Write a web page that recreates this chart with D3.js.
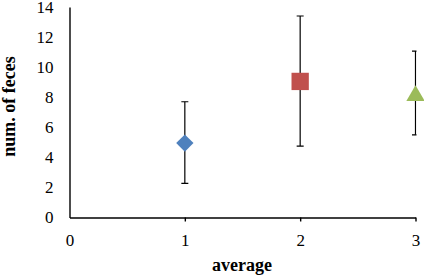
<!DOCTYPE html>
<html>
<head>
<meta charset="utf-8">
<script src="https://cdn.jsdelivr.net/npm/d3@7"></script>
<style>
  body { margin: 0; background: #fff; }
  text { font-family: "Liberation Serif", "Times New Roman", serif; }
</style>
</head>
<body>
<div id="viz"></div>
<script>
// data
let xs = [1, 2, 3];
let means = [4.95, 9.05, 8.2];
let lows = [2.27, 4.75, 5.5];
let highs = [7.7, 13.4, 11.07];
let shapes = ['diamond', 'square', 'triangle'];
let colors = ['#4F81BD', '#C0504D', '#9BBB59'];
let xTicks = [0, 1, 2, 3];
let yTicks = [0, 2, 4, 6, 8, 10, 12, 14];

const width = 424, height = 276;
const margins = { top: 7, right: 8, bottom: 58, left: 69.5 };

const svg = d3.select('#viz').append('svg')
    .attr('width', width)
    .attr('height', height);

// scales
const xScale = d3.scaleLinear()
    .domain([0, 3])
    .range([margins.left, 415.5]);

const yScale = d3.scaleLinear()
    .domain([0, 14])
    .range([217.5, margins.top]);

// clip for the error bars (plot area)
svg.append('defs').append('clipPath')
    .attr('id', 'clip')
    .append('rect')
        .attr('x', margins.left)
        .attr('y', 0)
        .attr('width', 416.5 - margins.left)
        .attr('height', 230);

// axes
const xAxis = svg.append('g')
    .attr('transform', `translate(0,${yScale(0)})`)
    .call(d3.axisBottom(xScale).tickValues(xTicks).tickSizeOuter(0).tickSizeInner(4).tickPadding(12).tickFormat(d3.format('d')));

xAxis.select('.domain').attr('stroke', '#000').attr('stroke-width', 1.4);
xAxis.selectAll('.tick line').attr('stroke', '#000').attr('stroke-width', 1.4)
    .attr('display', d => d === 0 ? 'none' : null);
xAxis.selectAll('.tick text').attr('font-size', 17).attr('fill', '#000')
    .attr('font-family', '"Liberation Serif", serif');

const yAxis = svg.append('g')
    .attr('transform', `translate(${margins.left},0)`)
    .call(d3.axisLeft(yScale).tickValues(yTicks).tickSize(0).tickSizeOuter(0).tickPadding(16));

yAxis.select('.domain').attr('stroke', '#000').attr('stroke-width', 1.4);
yAxis.selectAll('.tick text').attr('font-size', 17).attr('fill', '#000')
    .attr('font-family', '"Liberation Serif", serif');

// axis titles
svg.append('text')
    .attr('x', 242)
    .attr('y', 271)
    .attr('text-anchor', 'middle')
    .attr('font-size', 18)
    .attr('font-weight', 'bold')
    .text('average');

svg.append('text')
    .attr('transform', 'translate(15,106.5) rotate(-90)')
    .attr('text-anchor', 'middle')
    .attr('font-size', 18)
    .attr('font-weight', 'bold')
    .text('num. of feces');

// error bars
const bars = svg.append('g').attr('clip-path', 'url(#clip)');
xs.forEach((x, i) => {
    const cx = xScale(x);
    bars.append('line')
        .attr('x1', cx).attr('x2', cx)
        .attr('y1', yScale(lows[i])).attr('y2', yScale(highs[i]))
        .attr('stroke', '#000').attr('stroke-width', 1.2);
    [lows[i], highs[i]].forEach(v => {
        bars.append('line')
            .attr('x1', cx - 3.5).attr('x2', cx + 3.5)
            .attr('y1', yScale(v)).attr('y2', yScale(v))
            .attr('stroke', '#000').attr('stroke-width', 1.2);
    });
});

// markers
const symbols = {
    diamond: d3.symbolSquare,
    square: d3.symbolSquare,
    triangle: d3.symbolTriangle
};
xs.forEach((x, i) => {
    const cx = xScale(x), cy = yScale(means[i]);
    let size = shapes[i] === 'square' ? 300 : shapes[i] === 'diamond' ? 150 : 145;
    let rot = shapes[i] === 'diamond' ? 45 : 0;
    let dy = shapes[i] === 'triangle' ? 1.5 : 0;
    svg.append('path')
        .attr('d', d3.symbol().type(symbols[shapes[i]]).size(size)())
        .attr('transform', `translate(${cx},${cy + dy}) rotate(${rot})`)
        .attr('fill', colors[i]);
});
</script>
</body>
</html>
